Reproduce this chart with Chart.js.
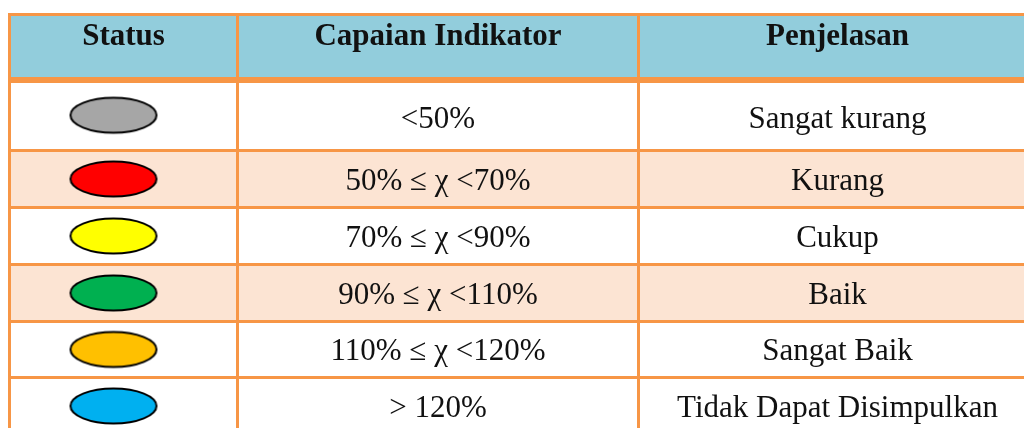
<!DOCTYPE html>
<html>
<head>
<meta charset="utf-8">
<script src="https://cdn.jsdelivr.net/npm/chart.js@4/dist/chart.umd.min.js"></script>
<style>
    html, body { margin: 0; padding: 0; background: #fff; overflow: hidden; }
    #wrap { position: absolute; left: 0; top: 0; width: 1044px; height: 440px; }
</style>
</head>
<body>
<div id="wrap"><canvas id="tbl" width="1044" height="440"></canvas></div>
<script>
// data
const headers = ['Status', 'Capaian Indikator', 'Penjelasan'];
const statusColors = ['#a6a6a6', '#ff0000', '#ffff00', '#00b050', '#ffc000', '#00b0f0'];
const ranges = ['<50%', '50% \u2264 \u03c7 <70%', '70% \u2264 \u03c7 <90%', '90% \u2264 \u03c7 <110%', '110% \u2264 \u03c7 <120%', '> 120%'];
const descriptions = ['Sangat kurang', 'Kurang', 'Cukup', 'Baik', 'Sangat Baik', 'Tidak Dapat Disimpulkan'];

// layout (table units = px inside the chart area)
const colEdges = [0, 228, 629, 1027];
const rowEdges = [0, 65.5, 136, 193, 250, 307, 363, 420];
const headerFill = '#92cddc';
const rowFills = ['#ffffff', '#fce4d3', '#ffffff', '#fce4d3', '#ffffff', '#ffffff'];
const borderColor = '#f79646';
const fontFamily = '"Liberation Serif", "DejaVu Serif", serif';

const colMid = i => (colEdges[i] + colEdges[i + 1]) / 2;
const rowMid = i => (rowEdges[i] + rowEdges[i + 1]) / 2;

function makeEllipse(fill) {
    const c = document.createElement('canvas');
    c.width = 110;
    c.height = 42;
    const g = c.getContext('2d');
    g.beginPath();
    g.ellipse(45, 21, 43, 17.5, 0, 0, Math.PI * 2);
    g.fillStyle = fill;
    g.fill();
    g.lineWidth = 2;
    g.strokeStyle = '#000';
    g.stroke();
    return c;
}
const ellipses = statusColors.map(makeEllipse);

const tablePlugin = {
    id: 'tablePlugin',
    beforeDatasetsDraw(chart) {
        const { ctx, scales: { x, y } } = chart;
        const left = x.getPixelForValue(colEdges[0]);
        const right = x.getPixelForValue(colEdges[colEdges.length - 1]);
        ctx.save();
        // header band
        ctx.fillStyle = headerFill;
        ctx.fillRect(left, y.getPixelForValue(rowEdges[0]), right - left,
            y.getPixelForValue(rowEdges[1]) - y.getPixelForValue(rowEdges[0]));
        // body rows
        rowFills.forEach((f, i) => {
            const t = y.getPixelForValue(rowEdges[i + 1]);
            const b = y.getPixelForValue(rowEdges[i + 2]);
            ctx.fillStyle = f;
            ctx.fillRect(left, t, right - left, b - t);
        });
        // borders
        ctx.strokeStyle = borderColor;
        const top = y.getPixelForValue(rowEdges[0]);
        const bottom = y.getPixelForValue(rowEdges[rowEdges.length - 1]);
        rowEdges.forEach((r, i) => {
            const py = y.getPixelForValue(r);
            ctx.lineWidth = i === 1 ? 6 : 3;
            ctx.beginPath();
            ctx.moveTo(left - 1.5, py);
            ctx.lineTo(right + 1.5, py);
            ctx.stroke();
        });
        ctx.lineWidth = 3;
        colEdges.forEach(cx => {
            const px = x.getPixelForValue(cx);
            ctx.beginPath();
            ctx.moveTo(px, top - 1.5);
            ctx.lineTo(px, bottom + 1.5);
            ctx.stroke();
        });
        ctx.restore();
    },
    afterDatasetsDraw(chart) {
        const { ctx, scales: { x, y } } = chart;
        ctx.save();
        ctx.fillStyle = '#111';
        ctx.textAlign = 'center';
        ctx.textBaseline = 'alphabetic';
        ctx.font = 'bold 31px ' + fontFamily;
        headers.forEach((h, i) => {
            ctx.fillText(h, x.getPixelForValue(colMid(i)), y.getPixelForValue(rowEdges[0]) + 30.5);
        });
        ctx.font = '31px ' + fontFamily;
        ranges.forEach((r, i) => {
            // first body row is taller, its text sits a little lower
            const py = y.getPixelForValue(rowMid(i + 1)) + (i === 0 ? 12.5 : 10.5);
            ctx.fillText(r, x.getPixelForValue(colMid(1)), py);
            ctx.fillText(descriptions[i], x.getPixelForValue(colMid(2)), py);
        });
        ctx.restore();
    }
};

new Chart(document.getElementById('tbl').getContext('2d'), {
    type: 'scatter',
    data: {
        datasets: [{
            label: 'Status',
            data: statusColors.map((c, i) => ({ x: colMid(0), y: rowMid(i + 1) })),
            pointStyle: ctx => ellipses[ctx.dataIndex],
            pointRadius: 20,
            pointHoverRadius: 20
        }]
    },
    options: {
        responsive: false,
        animation: false,
        devicePixelRatio: 1,
        layout: { autoPadding: false, padding: { left: 9.5, top: 14.5, right: 7.5, bottom: 5.5 } },
        plugins: { legend: { display: false }, tooltip: { enabled: false } },
        scales: {
            x: { type: 'linear', min: colEdges[0], max: colEdges[colEdges.length - 1], display: false },
            y: { type: 'linear', min: rowEdges[0], max: rowEdges[rowEdges.length - 1], reverse: true, display: false }
        }
    },
    plugins: [tablePlugin]
});
</script>
</body>
</html>
